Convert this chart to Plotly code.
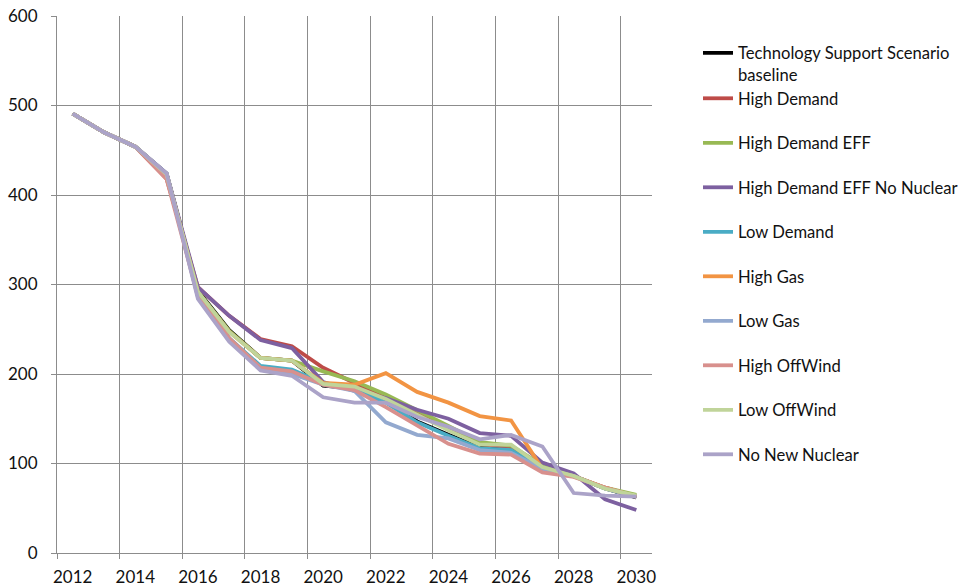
import plotly.graph_objects as go

# Scenario years (category axis, one point per year)
years = list(range(2012, 2031))
tick_labels = [str(y) for y in range(2012, 2031, 2)]

# Emission intensity by scenario
tech_support_baseline = [491, 470, 454, 424, 293, 249, 218, 215, 187, 184, 170, 147, 132, 118, 116, 97, 86, 72, 62]
high_demand = [491, 470, 454, 418, 297, 265, 239, 231, 207, 190, 173, 156, 139, 122, 118, 95, 86, 73, 63]
high_demand_eff = [491, 470, 454, 423, 292, 248, 218, 215, 203, 192, 177, 160, 142, 124, 120, 98, 86, 73, 65]
high_demand_eff_no_nuclear = [491, 470, 454, 424, 297, 265, 238, 229, 191, 181, 173, 160, 150, 134, 131, 101, 89, 60, 48]
low_demand = [491, 470, 454, 423, 288, 240, 209, 205, 190, 183, 168, 146, 131, 117, 115, 94, 86, 72, 63]
high_gas = [491, 470, 454, 423, 291, 247, 218, 215, 190, 188, 201, 180, 168, 153, 148, 94, 86, 73, 63]
low_gas = [491, 470, 454, 424, 286, 238, 205, 200, 188, 181, 146, 132, 128, 115, 112, 94, 86, 72, 63]
high_offwind = [491, 470, 454, 418, 287, 240, 207, 203, 188, 182, 163, 142, 122, 111, 110, 90, 85, 73, 63]
low_offwind = [491, 470, 454, 423, 292, 247, 218, 215, 189, 186, 172, 154, 137, 121, 121, 96, 86, 72, 64]
no_new_nuclear = [491, 470, 454, 424, 284, 236, 204, 198, 174, 168, 168, 152, 141, 127, 132, 119, 67, 64, 63]

series = [
    ("Technology Support Scenario<br>baseline", tech_support_baseline, "#000000"),
    ("High Demand", high_demand, "#BE4B48"),
    ("High Demand EFF", high_demand_eff, "#98B954"),
    ("High Demand EFF No Nuclear", high_demand_eff_no_nuclear, "#7D60A0"),
    ("Low Demand", low_demand, "#4AACC5"),
    ("High Gas", high_gas, "#F29443"),
    ("Low Gas", low_gas, "#93A9CF"),
    ("High OffWind", high_offwind, "#D8908D"),
    ("Low OffWind", low_offwind, "#C0D49A"),
    ("No New Nuclear", no_new_nuclear, "#ABA3C8"),
]

W, H = 961, 587
L, R, T, B = 57, 652, 16, 553  # plot area in pixels
FONT = "Lato"
GRID = "#8c8c8c"

# Legend rows: vertical centre of each entry (px from top)
legend_rows = [64, 98.5, 143, 187.5, 232, 276.5, 321, 365.5, 410, 454.5]
legend_left = 698

fig = go.Figure()
layout_legends = {}
for i, (name, vals, color) in enumerate(series):
    key = "legend" if i == 0 else f"legend{i + 1}"
    fig.add_trace(go.Scatter(
        x=years, y=vals, mode="lines", name=name,
        line=dict(color=color, width=3.8),
        legend=key,
    ))
    layout_legends[key] = dict(
        x=(legend_left - L) / (R - L),
        y=(B - legend_rows[i]) / (B - T),
        xanchor="left", yanchor="middle",
        valign="top",
        bgcolor="rgba(0,0,0,0)", borderwidth=0,
        font=dict(family=FONT, size=16.6, color="#111111"),
    )

fig.update_layout(
    template="none",
    width=W, height=H,
    margin=dict(l=L, r=W - R, t=T, b=H - B, pad=0, autoexpand=False),
    paper_bgcolor="white", plot_bgcolor="white",
    showlegend=True,
    **layout_legends,
)

fig.update_xaxes(
    range=[2011.5, 2030.5], automargin=False,
    tickmode="array", tickvals=list(range(2012, 2031, 2)), ticktext=tick_labels,
    ticks="outside", ticklen=9, tickcolor="rgba(0,0,0,0)",
    showgrid=False, zeroline=False,
    showline=True, linecolor=GRID, linewidth=1,
    tickfont=dict(family=FONT, size=17, color="#111111"),
    minor=dict(
        tickmode="array", tickvals=[2011.5 + 2 * k for k in range(10)],
        ticks="outside", ticklen=5, tickcolor=GRID,
        showgrid=True, gridcolor=GRID, gridwidth=1,
    ),
)

fig.update_yaxes(
    range=[0, 600], tickmode="linear", tick0=0, dtick=100, automargin=False,
    ticks="outside", ticklen=5, tickcolor=GRID,
    showgrid=True, gridcolor=GRID, gridwidth=1, zeroline=False,
    showline=True, linecolor=GRID, linewidth=1,
    ticklabelstandoff=10,
    tickfont=dict(family=FONT, size=17, color="#111111"),
)

fig.write_html("out.html")
